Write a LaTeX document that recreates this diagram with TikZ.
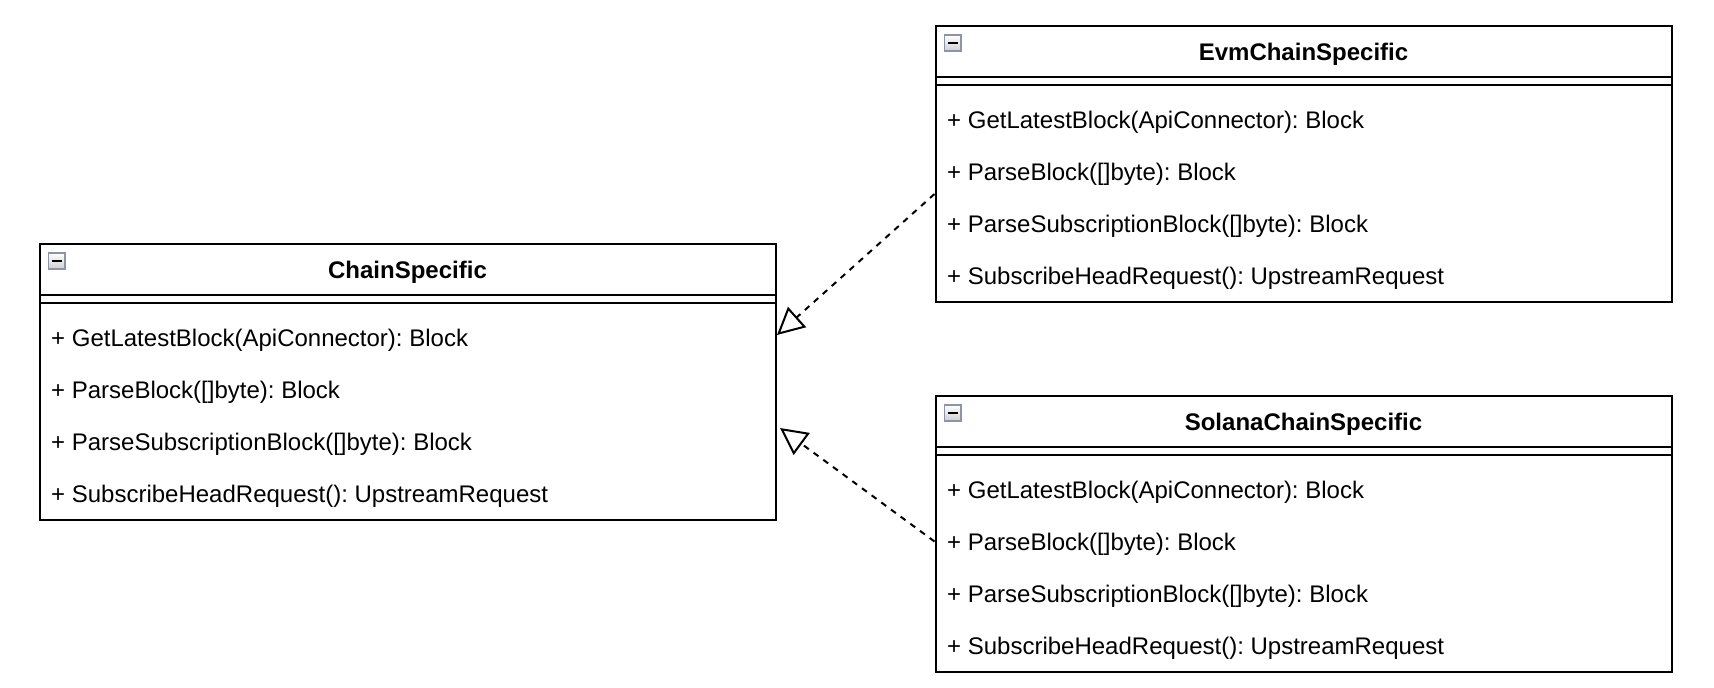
\documentclass[tikz,border=0pt]{standalone}
\usepackage{fontspec}
\setmainfont{Liberation Sans}
\usetikzlibrary{arrows.meta,calc}

\definecolor{iconedge}{HTML}{8C94A8}
\definecolor{iconlow}{HTML}{CFCFD2}

\tikzset{
  classbox/.style={draw, line width=2pt, minimum width=736pt, minimum height=276pt,
    inner sep=0pt, anchor=north west, fill=white},
  classtitle/.style={font=\bfseries\fontsize{24}{28}\selectfont, inner sep=0pt},
  member/.style={font=\fontsize{24}{28}\selectfont, anchor=west, inner sep=0pt},
  sepline/.style={line width=2pt},
  collapse/.style={draw=iconedge, line width=1.2pt, top color=white, bottom color=iconlow},
  realizes/.style={line width=2pt, dash pattern=on 6pt off 6pt,
    -{Triangle[open, length=27pt, width=27pt, fill=white, line width=2pt]}},
}

% one UML class: #1 name, #2 top-left corner, #3 title
\newcommand{\umlclassbox}[3]{%
  \node[classbox] (#1) at (#2) {};
  \node[classtitle] (#1-title) at ($(#1.north)+(0,29)$) {#3};
  \draw[sepline] ($(#1.north west)+(0,52)$) -- ($(#1.north east)+(0,52)$);
  \draw[sepline] ($(#1.north west)+(0,59.5)$) -- ($(#1.north east)+(0,59.5)$);
  \draw[collapse] ($(#1.north west)+(10,10)$) rectangle ($(#1.north west)+(26.5,26)$);
  \draw[line width=2.5pt] ($(#1.north west)+(13.5,18)$) -- ($(#1.north west)+(23,18)$);
  \node[member] (#1-m1) at ($(#1.north west)+(12.5,97.5)$) {+ GetLatestBlock(ApiConnector): Block};
  \node[member] (#1-m2) at ($(#1.north west)+(12.5,149.5)$) {+ ParseBlock([]byte): Block};
  \node[member] (#1-m3) at ($(#1.north west)+(12.5,201.5)$) {+ ParseSubscriptionBlock([]byte): Block};
  \node[member] (#1-m4) at ($(#1.north west)+(12.5,253)$) {+ SubscribeHeadRequest(): UpstreamRequest};
}

\begin{document}
\frenchspacing
\begin{tikzpicture}[x=1pt, y=-1pt]
  \useasboundingbox (0,0) rectangle (1714,688);

  \umlclassbox{chain}{38.5,243}{ChainSpecific}
  \umlclassbox{evm}{934.5,25}{EvmChainSpecific}
  \umlclassbox{solana}{934.5,395}{SolanaChainSpecific}

  % attachment points of the realization connectors
  \coordinate (evmsrc) at ($(evm.west)+(0,30)$);
  \coordinate (evmdst) at ($(chain.east)+(0.5,-47)$);
  \coordinate (solsrc) at ($(solana.west)+(0,7.5)$);
  \coordinate (soldst) at ($(chain.east)+(3.5,46)$);

  \draw[realizes] (evmsrc) -- (evmdst);
  \draw[realizes] (solsrc) -- (soldst);
\end{tikzpicture}
\end{document}
